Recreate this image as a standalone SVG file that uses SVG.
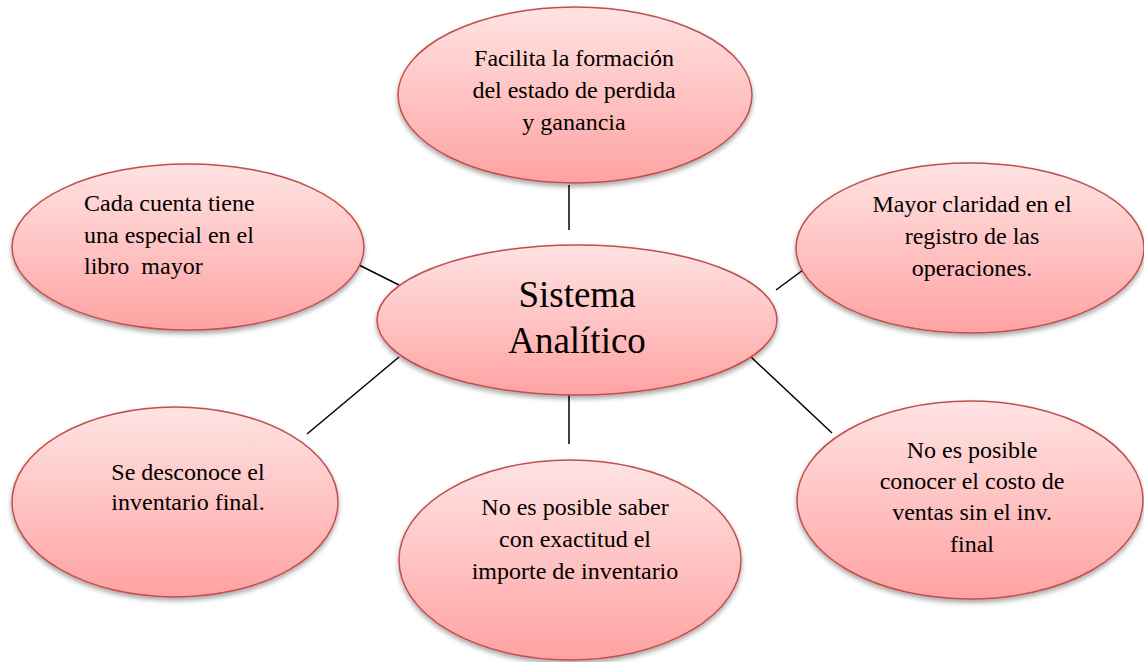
<svg xmlns="http://www.w3.org/2000/svg" width="1144" height="662" viewBox="0 0 1144 662">
<defs>
<linearGradient id="g" x1="0" y1="0" x2="0" y2="1">
<stop offset="0" stop-color="#ffe3e3"/>
<stop offset="0.5" stop-color="#ffc3c3"/>
<stop offset="1" stop-color="#ffa2a2"/>
</linearGradient>
<filter id="sh" x="-10%" y="-10%" width="120%" height="130%">
<feGaussianBlur in="SourceAlpha" stdDeviation="2.5"/>
<feOffset dx="0" dy="3" result="b"/>
<feComponentTransfer><feFuncA type="linear" slope="0.35"/></feComponentTransfer>
<feMerge><feMergeNode/><feMergeNode in="SourceGraphic"/></feMerge>
</filter>
</defs>
<style>
.n{fill:url(#g);stroke:#c0504d;stroke-width:1.5;filter:url(#sh)}
.c{text-anchor:middle}
.l{stroke:#000;stroke-width:1.5;fill:none}
</style>
<rect width="1144" height="662" fill="#fff"/>
<g id="connectors">
<line class="l" x1="569" y1="185" x2="569" y2="230"/>
<line class="l" x1="359" y1="265" x2="399" y2="285"/>
<line class="l" x1="776" y1="290" x2="803" y2="270"/>
<line class="l" x1="399" y1="357" x2="307" y2="434"/>
<line class="l" x1="569" y1="395" x2="569" y2="444"/>
<line class="l" x1="751" y1="357" x2="832" y2="433"/>
</g>
<g font-family="'Liberation Serif', 'Times New Roman', serif" font-size="24" fill="#000">
<g id="top">
<ellipse class="n" cx="575" cy="95" rx="177" ry="88"/>
<text class="c" x="574" y="66">Facilita la formación</text>
<text class="c" x="574" y="98">del estado de perdida</text>
<text class="c" x="574" y="130">y ganancia</text>
</g>
<g id="left-top">
<ellipse class="n" cx="188" cy="247" rx="176" ry="83"/>
<text x="84" y="211">Cada cuenta tiene</text>
<text x="84" y="243">una especial en el</text>
<text x="84" y="274" xml:space="preserve">libro  mayor</text>
</g>
<g id="right-top">
<ellipse class="n" cx="970" cy="248" rx="174" ry="85"/>
<text class="c" x="972" y="212">Mayor claridad en el</text>
<text class="c" x="972" y="244">registro de las</text>
<text class="c" x="972" y="276">operaciones.</text>
</g>
<g id="center">
<ellipse class="n" cx="577" cy="320" rx="200" ry="75"/>
<text class="c" x="577" y="307" font-size="37">Sistema</text>
<text class="c" x="577" y="353" font-size="37">Analítico</text>
</g>
<g id="bottom-left">
<ellipse class="n" cx="175" cy="502" rx="163" ry="95"/>
<text class="c" x="188" y="480">Se desconoce el</text>
<text class="c" x="188" y="510">inventario final.</text>
</g>
<g id="bottom-mid">
<ellipse class="n" cx="570" cy="560" rx="171" ry="100"/>
<text class="c" x="575" y="515">No es posible saber</text>
<text class="c" x="575" y="547">con exactitud el</text>
<text class="c" x="575" y="579">importe de inventario</text>
</g>
<g id="bottom-right">
<ellipse class="n" cx="970" cy="500" rx="173" ry="99"/>
<text class="c" x="972" y="458">No es posible</text>
<text class="c" x="972" y="489">conocer el costo de</text>
<text class="c" x="972" y="520">ventas sin el inv.</text>
<text class="c" x="972" y="552">final</text>
</g>
</g>
</svg>
